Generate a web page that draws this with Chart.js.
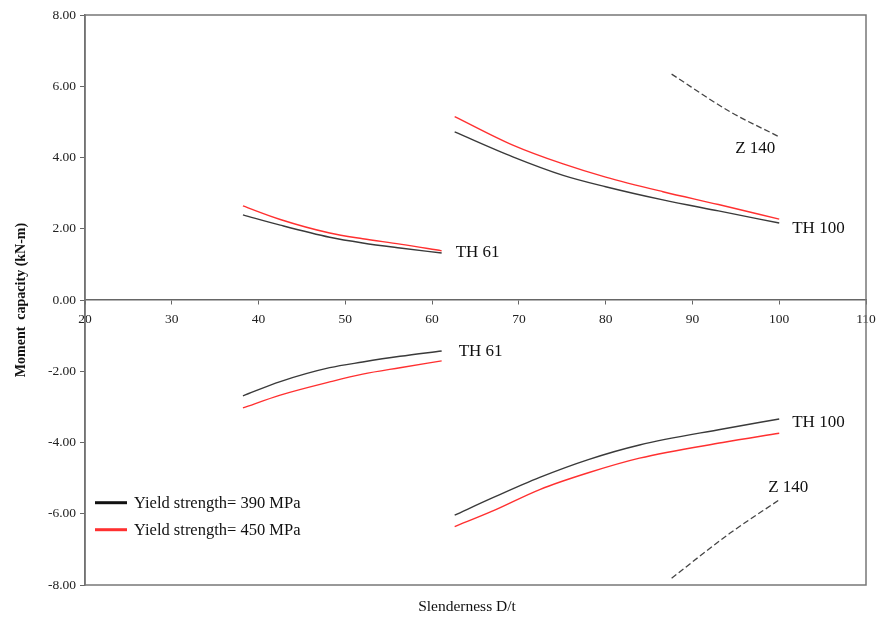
<!DOCTYPE html>
<html>
<head>
<meta charset="utf-8">
<script src="https://cdn.jsdelivr.net/npm/chart.js@4/dist/chart.umd.min.js"></script>
<style>
	html, body { margin: 0; padding: 0; background: #fff; }
	#wrap { width: 878px; height: 619px; position: relative; }
</style>
</head>
<body>
<div id="wrap"><canvas id="chart"></canvas></div>
<script>
// values (x = D/t, y = kN-m)
const th61X = [38.2, 42.5, 48.2, 52.0, 56.3, 61.1];
const th61Pos390 = [2.39, 2.10, 1.76, 1.60, 1.46, 1.32];
const th61Pos450 = [2.64, 2.26, 1.88, 1.72, 1.57, 1.38];
const th61Neg390 = [-2.69, -2.29, -1.90, -1.74, -1.58, -1.43];
const th61Neg450 = [-3.03, -2.67, -2.30, -2.08, -1.90, -1.71];

const th100PosX = [62.6, 69.3, 75.1, 80.0, 86.6, 93.0, 100];
const th100Pos390 = [4.72, 4.02, 3.50, 3.18, 2.81, 2.50, 2.16];
const th100Pos450 = [5.15, 4.35, 3.82, 3.45, 3.04, 2.68, 2.27];

const th100NegX = [62.6, 67.0, 72.4, 78.0, 83.9, 93.5, 100];
const th100Neg390 = [-6.04, -5.55, -4.98, -4.48, -4.07, -3.62, -3.34];
const th100Neg450 = [-6.36, -5.92, -5.32, -4.85, -4.44, -4.00, -3.74];

const z140X = [87.6, 94.3, 100];
const z140Pos = [6.34, 5.29, 4.58];
const z140Neg = [-7.81, -6.55, -5.61];

const legendLabels = ['Yield strength= 390 MPa', 'Yield strength= 450 MPa'];
const colour390 = '#3a3a3a';
const colour450 = '#ff3030';

const toPoints = (xs, ys) => xs.map((x, i) => ({ x: x, y: ys[i] }));

const line = (xs, ys, colour, dashed) => ({
	data: toPoints(xs, ys),
	borderColor: colour,
	borderWidth: dashed ? 1.3 : 1.4,
	borderDash: dashed ? [6, 3] : [],
	pointRadius: 0,
	showLine: true,
	fill: false,
	cubicInterpolationMode: 'monotone'
});

const datasets = [
	line(th61X, th61Pos390, colour390),
	line(th61X, th61Pos450, colour450),
	line(th61X, th61Neg390, colour390),
	line(th61X, th61Neg450, colour450),
	line(th100PosX, th100Pos390, colour390),
	line(th100PosX, th100Pos450, colour450),
	line(th100NegX, th100Neg390, colour390),
	line(th100NegX, th100Neg450, colour450),
	line(z140X, z140Pos, '#444', true),
	line(z140X, z140Neg, '#444', true)
];

const serif = '"Liberation Serif", "DejaVu Serif", serif';

// frame, curve labels, legend and x title
const extras = {
	id: 'extras',
	afterDraw: (chart) => {
		const ctx = chart.ctx;
		const a = chart.chartArea;
		const xs = chart.scales.x;
		const ys = chart.scales.y;
		ctx.save();
		ctx.strokeStyle = '#777';
		ctx.lineWidth = 1.5;
		ctx.strokeRect(a.left, a.top, a.right - a.left, a.bottom - a.top);

		ctx.fillStyle = '#111';
		ctx.font = '17px ' + serif;
		ctx.textBaseline = 'middle';
		ctx.textAlign = 'left';
		const notes = [
			['TH 61', 61.1, 1.32, 14, 0],
			['TH 61', 61.1, -1.43, 17, 1],
			['TH 100', 100, 2.16, 13, 5],
			['TH 100', 100, -3.34, 13, 4],
			['Z 140', 100, 4.58, -44, 12],
			['Z 140', 100, -5.61, -11, -12]
		];
		notes.forEach(n => {
			ctx.fillText(n[0], xs.getPixelForValue(n[1]) + n[3], ys.getPixelForValue(n[2]) + n[4]);
		});

		// legend
		ctx.font = '16.5px ' + serif;
		const lx = a.left + 10;
		const ly = ys.getPixelForValue(-5.69);
		['#111', colour450].forEach((c, i) => {
			const y = ly + i * 27;
			ctx.strokeStyle = c;
			ctx.lineWidth = 3;
			ctx.beginPath();
			ctx.moveTo(lx, y);
			ctx.lineTo(lx + 32, y);
			ctx.stroke();
			ctx.fillStyle = '#111';
			ctx.fillText(legendLabels[i], lx + 39, y + 1);
		});

		ctx.textAlign = 'center';
		ctx.font = '15.5px ' + serif;
		ctx.fillText('Slenderness D/t', 467, 607);
		ctx.restore();
	}
};

new Chart(document.getElementById('chart'), {
	type: 'scatter',
	data: { datasets },
	options: {
		responsive: true,
		maintainAspectRatio: false,
		animation: false,
		layout: { padding: { left: 0, right: 12, top: 15, bottom: 34 } },
		plugins: {
			legend: { display: false },
			tooltip: { enabled: false }
		},
		scales: {
			x: {
				type: 'linear',
				position: { y: 0 },
				min: 20,
				max: 110,
				afterFit: (s) => { s.paddingLeft = 0; s.paddingRight = 0; },
				ticks: {
					stepSize: 10,
					color: '#222',
					font: { family: serif, size: 13.5 },
					padding: 7
				},
				grid: { display: true, drawOnChartArea: false, tickLength: 4, color: '#666' },
				border: { display: true, color: '#666', width: 1.5 }
			},
			y: {
				min: -8,
				max: 8,
				afterFit: (s) => { s.width = 85; },
				ticks: {
					stepSize: 2,
					color: '#222',
					font: { family: serif, size: 13.5 },
					padding: 4,
					callback: (v) => v.toFixed(2)
				},
				grid: { display: true, drawOnChartArea: false, tickLength: 5, color: '#666' },
				border: { display: true, color: '#666', width: 1.5 },
				title: {
					display: true,
					text: 'Moment  capacity (kN-m)',
					color: '#111',
					font: { family: serif, size: 14, weight: 'bold' },
					padding: { top: 13, bottom: 0 }
				}
			}
		}
	},
	plugins: [extras]
});
</script>
</body>
</html>
